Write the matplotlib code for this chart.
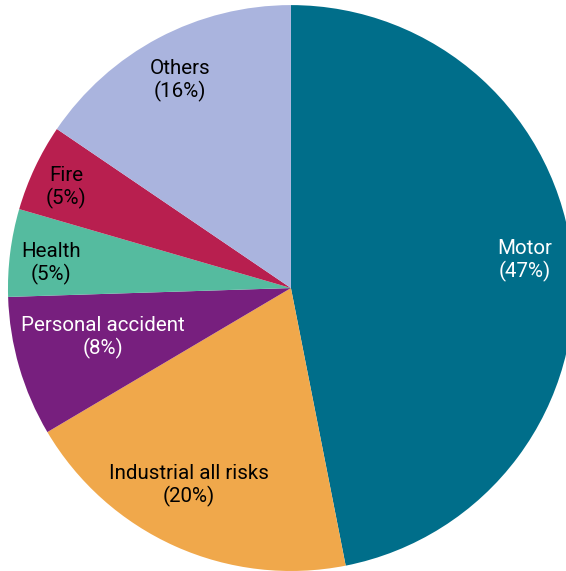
import matplotlib
matplotlib.use("Agg")
import matplotlib.pyplot as plt
import numpy as np

categorias = ["Motor", "Industrial all risks", "Personal accident", "Health", "Fire", "Others"]
valores = [46.9, 19.6, 8.0, 5.0, 5.0, 15.5]
porcentajes = ["47%", "20%", "8%", "5%", "5%", "16%"]
colores = ["#006e8a", "#f0a84b", "#771f7e", "#55bb9f", "#b81f4f", "#aab4de"]
color_texto = ["white", "black", "white", "black", "black", "black"]

# posicion de etiquetas: radio relativo y desfase del angulo medio (grados)
distancias = [0.834, 0.778, 0.685, 0.853, 0.874, 0.838]
desfases = [1.7, -3.5, -2.2, 0.9, 0.6, 0.0]

plt.rcParams["font.family"] = ["Roboto", "DejaVu Sans"]

fig = plt.figure(figsize=(5.66, 5.71), dpi=100)
ax = fig.add_axes([0, 0, 1, 1])

wedges, _ = ax.pie(valores, colors=colores, startangle=90, counterclock=False,
                   radius=1.0, wedgeprops={"linewidth": 0})

for w, nombre, pct, col, d, off in zip(wedges, categorias, porcentajes, color_texto, distancias, desfases):
    ang = np.deg2rad((w.theta1 + w.theta2) / 2 + off)
    x = d * np.cos(ang)
    y = d * np.sin(ang)
    ax.annotate(f"{nombre}\n({pct})", (x, y), xytext=(0, -1.6), textcoords="offset points",
                ha="center", va="center", color=col, fontsize=14.8, linespacing=1.18)

ax.set_xlim(-1.028, 0.972)
ax.set_ylim(-1.0, 1.018)
ax.set_aspect("equal")
ax.axis("off")

fig.savefig("out.png", dpi=100)
